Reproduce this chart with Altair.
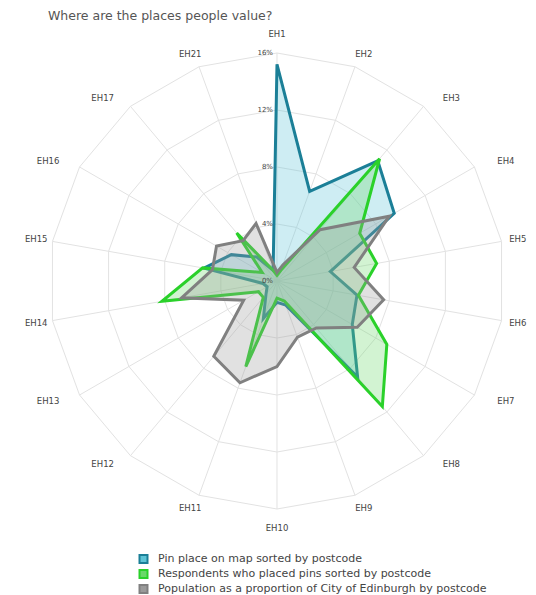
import altair as alt
import pandas as pd

categories = ["EH1", "EH2", "EH3", "EH4", "EH5", "EH6", "EH7", "EH8", "EH9",
              "EH10", "EH11", "EH12", "EH13", "EH14", "EH15", "EH16", "EH17", "EH21"]
pins = [15.2, 6.7, 11.0, 9.5, 3.8, 5.7, 6.1, 8.8, 1.8, 1.5, 2.8, 1.2, 0.8, 1.0, 5.2, 3.7, 2.2, 0.8]
respondents = [0.4, 0.8, 11.2, 6.7, 7.1, 5.8, 8.9, 11.5, 1.5, 1.2, 6.4, 1.5, 1.5, 8.2, 5.3, 1.2, 4.4, 0.8]
population = [0.6, 1.2, 4.7, 9.1, 5.5, 7.6, 6.5, 4.3, 4.2, 6.0, 7.6, 6.9, 2.7, 6.8, 4.6, 4.9, 3.7, 4.3]
series_names = ["Pin place on map sorted by postcode",
                "Respondents who placed pins sorted by postcode",
                "Population as a proportion of City of Edinburgh  by postcode"]
stroke_colors = ["#1b7f97", "#2ad12a", "#808080"]
fill_colors = ["#5ec4d6", "#6ad86a", "#9a9a9a"]
ticks = [0, 4, 8, 12, 16]
tick_labels = ["0%", "4%", "8%", "12%", "16%"]
title_text = "Where are the places people value?"

N = len(categories)
R_MAX = ticks[-1]
FONT = "DejaVu Sans"

rows = []
for s, vals in zip(series_names, [pins, respondents, population]):
    for i, (c, v) in enumerate(zip(categories, vals)):
        rows.append({"series": s, "cat": c, "idx": i, "value": v})
df = pd.DataFrame(rows)

grid_df = pd.DataFrame([{"ring": t, "idx": i} for t in ticks[1:] for i in range(N)])
spoke_df = pd.DataFrame({"cat": categories, "idx": list(range(N))})
tick_df = pd.DataFrame({"t": ticks, "label": tick_labels})

xs = alt.Scale(domain=[-18.877, 17.614], nice=False, zero=False)
ys = alt.Scale(domain=[-22.035, 17.614], nice=False, zero=False)
ang = f"datum.idx * 2 * PI / {N}"

def X(f):
    return alt.X(f, scale=xs, axis=None)

def Y(f):
    return alt.Y(f, scale=ys, axis=None)

rings = alt.Chart(grid_df).transform_calculate(
    x=f"datum.ring * sin({ang})", y=f"datum.ring * cos({ang})"
).mark_line(interpolate="linear-closed", stroke="#e2e2e2", strokeWidth=1).encode(
    x=X("x:Q"), y=Y("y:Q"), detail="ring:N", order="idx:Q"
)

spokes = alt.Chart(spoke_df).transform_calculate(
    x0="0", y0="0",
    x1=f"{R_MAX} * sin({ang})", y1=f"{R_MAX} * cos({ang})"
).mark_rule(stroke="#e2e2e2", strokeWidth=1).encode(
    x=X("x0:Q"), y=Y("y0:Q"), x2="x1:Q", y2="y1:Q"
)

polys = alt.Chart(df).transform_calculate(
    x=f"datum.value * sin({ang})", y=f"datum.value * cos({ang})"
).mark_line(interpolate="linear-closed", strokeWidth=3, fillOpacity=0.3, strokeJoin="miter").encode(
    x=X("x:Q"), y=Y("y:Q"),
    stroke=alt.Stroke("series:N", sort=series_names,
                      scale=alt.Scale(domain=series_names, range=stroke_colors),
                      legend=alt.Legend(title=None, orient="none", legendX=130, legendY=521.5,
                                        symbolType="square", symbolSize=64, symbolStrokeWidth=2,
                                        labelFontSize=11, labelFont=FONT, labelColor="#444",
                                        labelLimit=0, labelOffset=9, rowPadding=0, clipHeight=15)),
    fill=alt.Fill("series:N", sort=series_names,
                  scale=alt.Scale(domain=series_names, range=fill_colors)),
    order="idx:Q",
)

cat_labels = alt.Chart(spoke_df).transform_calculate(
    s2=f"pow(sin(2 * {ang}), 2)", s1=f"abs(sin(2 * {ang}))"
).transform_calculate(
    x=f"(16.9 + 2.2 * datum.s2) * sin({ang})",
    y=f"(17.3 - 0.5 * datum.s1) * cos({ang})",
).mark_text(fontSize=8.5, font=FONT, color="#444").encode(
    x=X("x:Q"), y=Y("y:Q"), text="cat:N"
)

tick_text = alt.Chart(tick_df).transform_calculate(x="0").mark_text(
    fontSize=7, font=FONT, color="#444", align="right", dx=-4
).encode(x=X("x:Q"), y=Y("t:Q"), text="label:N")

chart = alt.layer(rings, spokes, polys, cat_labels, tick_text).properties(
    width=520, height=565,
    padding={"left": 0, "top": 22, "right": 0, "bottom": 0},
    autosize="none",
    title=alt.Title(title_text, anchor="start", fontSize=12.5, fontWeight="normal",
                    color="#555", font=FONT, dx=40, offset=8),
).configure_view(stroke=None)

chart.save("out.html", embed_options={"renderer": "svg", "actions": False})
